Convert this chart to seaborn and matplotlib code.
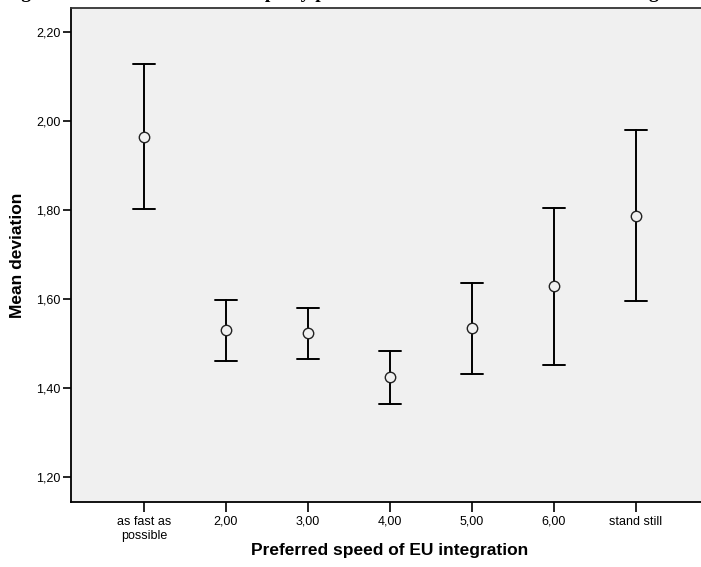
import matplotlib
matplotlib.use("Agg")
import matplotlib.pyplot as plt
import seaborn as sns
import pandas as pd
from matplotlib.ticker import FuncFormatter

# Mean deviation with 95% confidence interval per preferred speed of EU integration
categories = ["as fast as\npossible", "2,00", "3,00", "4,00", "5,00", "6,00", "stand still"]
means = [1.964, 1.531, 1.524, 1.425, 1.535, 1.629, 1.787]
ci_lower = [1.802, 1.461, 1.465, 1.364, 1.431, 1.452, 1.596]
ci_upper = [2.128, 1.598, 1.580, 1.483, 1.636, 1.805, 1.980]
y_ticks = [1.20, 1.40, 1.60, 1.80, 2.00, 2.20]

title = "Figure 3: Mean deviation from party position of voters on the issue of EU integration"
x_label = "Preferred speed of EU integration"
y_label = "Mean deviation"

# long table: each category holds its lower bound, mean and upper bound;
# the median gives the mean, the full percentile interval gives the CI
rows = []
for cat, lo, m, hi in zip(categories, ci_lower, means, ci_upper):
    for v in (lo, m, hi):
        rows.append({"speed": cat, "deviation": v})
df = pd.DataFrame(rows)

sns.set_theme(style="ticks")
plt.rcParams["font.family"] = ["Liberation Sans", "DejaVu Sans"]

bg = "#f0f0f0"
fig = plt.figure(figsize=(7.01, 5.67), dpi=100)
ax = fig.add_axes([71 / 701, 65 / 567, 638 / 701, 494 / 567])
ax.set_facecolor(bg)

sns.pointplot(
    data=df, x="speed", y="deviation", order=categories,
    estimator="median", errorbar=("pi", 100),
    color="black", linestyle="none", marker="o",
    markersize=7.5, markerfacecolor=bg, markeredgecolor="#222222",
    markeredgewidth=1.0, capsize=0.26,
    err_kws={"linewidth": 1.4, "color": "black"}, ax=ax,
)
for ln in ax.lines:
    if ln.get_marker() == "o":
        ln.set_zorder(5)

ax.set_xlim(-0.89, 6.89)
ax.set_ylim(1.144, 2.254)
ax.set_yticks(y_ticks)
ax.yaxis.set_major_formatter(FuncFormatter(lambda v, p: f"{v:.2f}".replace(".", ",")))

for side in ("left", "bottom", "top"):
    ax.spines[side].set_visible(True)
    ax.spines[side].set_color("black")
    ax.spines[side].set_linewidth(1.3)
ax.spines["top"].set_color("#333333")
ax.spines["right"].set_visible(False)

ax.tick_params(axis="both", direction="out", color="black", width=1.2,
               labelsize=9, labelcolor="black")
ax.tick_params(axis="y", length=6, pad=1.5)
ax.tick_params(axis="x", length=7, pad=3)

ax.set_xlabel(x_label, fontsize=12.5, fontweight="bold", color="black")
ax.set_ylabel(y_label, fontsize=12.5, fontweight="bold", color="black")
ax.xaxis.label.set_va("center")
ax.yaxis.label.set_va("center")
ax.xaxis.set_label_coords(0.5, (502 - 551) / 494)
ax.yaxis.set_label_coords((18 - 71) / 638, 0.5)

# figure caption sits above the top edge, only its descenders reach into view
fig.text(4 / 701, 1 + 2 / 567, title, family=["Liberation Serif", "DejaVu Serif"],
         fontweight="bold", fontsize=14, ha="left", va="baseline", color="black")

fig.savefig("out.png", dpi=100, facecolor="white")
